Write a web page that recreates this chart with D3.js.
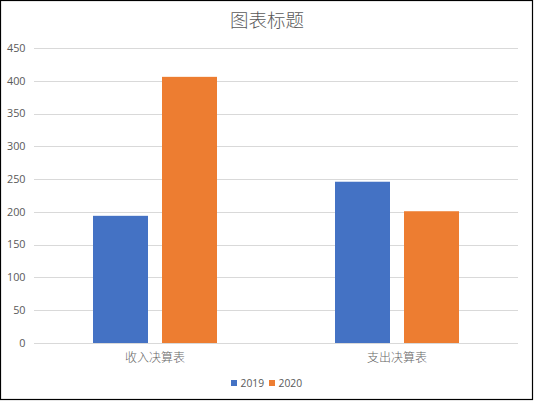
<!DOCTYPE html>
<html><head><meta charset="utf-8">
<script src="https://cdn.jsdelivr.net/npm/d3@7/dist/d3.min.js"></script>
<style>body{margin:0;background:#fff}svg{display:block}</style>
</head><body>
<script>
const categories = ["收入决算表", "支出决算表"];
const seriesNames = ["2019", "2020"];
const values2019 = [194, 246];
const values2020 = [406, 201];
const yTicks = [0, 50, 100, 150, 200, 250, 300, 350, 400, 450];
const colors = ["#4472C4", "#ED7D31"];
const title = "图表标题";

const W = 534, H = 401;
const svg = d3.select("body").append("svg").attr("width", W).attr("height", H);
svg.append("rect").attr("x", 0.5).attr("y", 0.5).attr("width", 532).attr("height", 399)
  .attr("fill", "#fff").attr("stroke", "#000").attr("stroke-width", 1.2);

const font = "'Noto Sans CJK SC', 'Microsoft YaHei', sans-serif";
const numFont = "'Open Sans', 'Noto Sans', sans-serif";
const plot = {left: 34, right: 518, top: 48, bottom: 343};

const y = d3.scaleLinear().domain([0, 450]).range([plot.bottom, plot.top]);
const x0 = d3.scaleBand().domain(categories).range([plot.left, plot.right])
  .paddingInner(0.4876).paddingOuter(0.2438);
const x1 = d3.scaleBand().domain(seriesNames).range([0, x0.bandwidth()]).paddingInner(0.203);

// gridlines
svg.append("g").selectAll("line").data(yTicks).join("line")
  .attr("x1", plot.left).attr("x2", plot.right)
  .attr("y1", d => Math.round(y(d)) + 0.5).attr("y2", d => Math.round(y(d)) + 0.5)
  .attr("stroke", "#D9D9D9").attr("stroke-width", 1);

// y labels
svg.append("g").selectAll("text").data(yTicks).join("text")
  .attr("x", 25.5).attr("y", d => y(d)).attr("dy", "0.35em")
  .attr("text-anchor", "end").attr("font-family", numFont)
  .attr("font-size", 10.8).attr("fill", "#595959").text(d => d);

// bars
const data = categories.map((c, i) => ({cat: c, vals: [values2019[i], values2020[i]]}));
const groups = svg.append("g").selectAll("g").data(data).join("g")
  .attr("transform", d => `translate(${x0(d.cat)},0)`);
groups.selectAll("rect").data(d => d.vals.map((v, j) => ({name: seriesNames[j], v, j}))).join("rect")
  .attr("x", d => x1(d.name)).attr("width", x1.bandwidth())
  .attr("y", d => y(d.v)).attr("height", d => y(0) - y(d.v))
  .attr("fill", d => colors[d.j]);

// category labels
svg.append("g").selectAll("text").data(categories).join("text")
  .attr("x", d => x0(d) + x0.bandwidth() / 2).attr("y", 358).attr("dy", "0.35em")
  .attr("text-anchor", "middle").attr("font-family", font).attr("font-weight", 300)
  .attr("font-size", 12).attr("fill", "#666").text(d => d);

// title
svg.append("text").attr("x", 267).attr("y", 21).attr("dy", "0.35em")
  .attr("text-anchor", "middle").attr("font-family", font).attr("font-weight", 300)
  .attr("font-size", 18.5).attr("fill", "#595959").text(title);

// legend
const legendX = [231, 269];
const lg = svg.append("g").selectAll("g").data(seriesNames).join("g")
  .attr("transform", (d, i) => `translate(${legendX[i]},380)`);
lg.append("rect").attr("width", 6).attr("height", 6).attr("fill", (d, i) => colors[i]);
lg.append("text").attr("x", 9.5).attr("y", 3).attr("dy", "0.35em")
  .attr("font-family", numFont).attr("font-size", 10.3)
  .attr("fill", "#595959").text(d => d);
</script>
</body></html>
